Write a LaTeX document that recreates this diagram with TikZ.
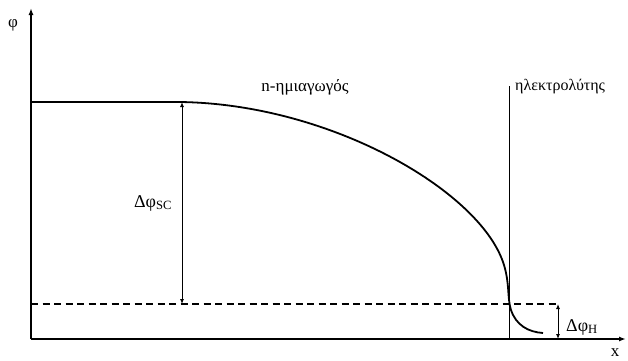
\documentclass[tikz,border=0pt]{standalone}
\usepackage{fontspec}
\setmainfont{Liberation Serif}
\usepackage{tikz}
\usetikzlibrary{arrows.meta,positioning,calc}

\begin{document}
\begin{tikzpicture}[
  x=1pt, y=-1pt,
  font=\fontsize{17}{19}\selectfont,
  >={Latex[length=7pt,width=5pt]},
  axis/.style={line width=1.6pt, ->},
  curve/.style={line width=1.8pt},
  gap/.style={line width=0.9pt, <->, >={Latex[length=5pt,width=4pt]}},
  lbl/.style={inner sep=1pt},
  big/.style={font=\fontsize{18}{20}\selectfont},
]
\useasboundingbox (0,0) rectangle (628,360);
% axes
\coordinate (orig) at (31,339);
\coordinate (ytop) at (31,8);
\coordinate (xend) at (626,339);
\draw[axis] (orig) -- (ytop);
\draw[axis] (orig) -- (xend);
\node[lbl] (phi) at (13,25) {φ};
\node[lbl] (xlab) at (615,353) {x};
% interface
\coordinate (itop) at (509,86);
\coordinate (ibot) at (509,339);
\draw[line width=0.9pt] (itop) -- (ibot);
% levels
\coordinate (flat) at (31,102);
\coordinate (dl) at (31,304);
\coordinate (dr) at (558,304);
\draw[dashed, line width=1.1pt, dash pattern=on 7pt off 4.5pt] (dl) -- (dr);
% potential profile
\draw[curve] (flat) -- (180,102) .. controls (330,104) and (478,190) .. (503,262)
  .. controls (510,282) and (507,298) .. (511,310)
  .. controls (516,325) and (528,332) .. (543,333);
% drops
\coordinate (sctop) at (182,102);
\coordinate (scbot) at (182,304);
\draw[gap] (sctop) -- (scbot);
\coordinate (htop) at (558,304);
\coordinate (hbot) at (558,339);
\draw[gap] (htop) -- (hbot);
\node[lbl, big] (dsc) at (153,203) {Δφ\textsubscript{SC}};
\node[lbl, big] (dh) at (582,327) {Δφ\textsubscript{H}};
% regions
\node[lbl] (semi) at (305,87) {n-ημιαγωγός};
\node[lbl, anchor=west, font=\fontsize{16}{18}\selectfont] (elec) at (514,87) {ηλεκτρολύτης};
\end{tikzpicture}
\end{document}
